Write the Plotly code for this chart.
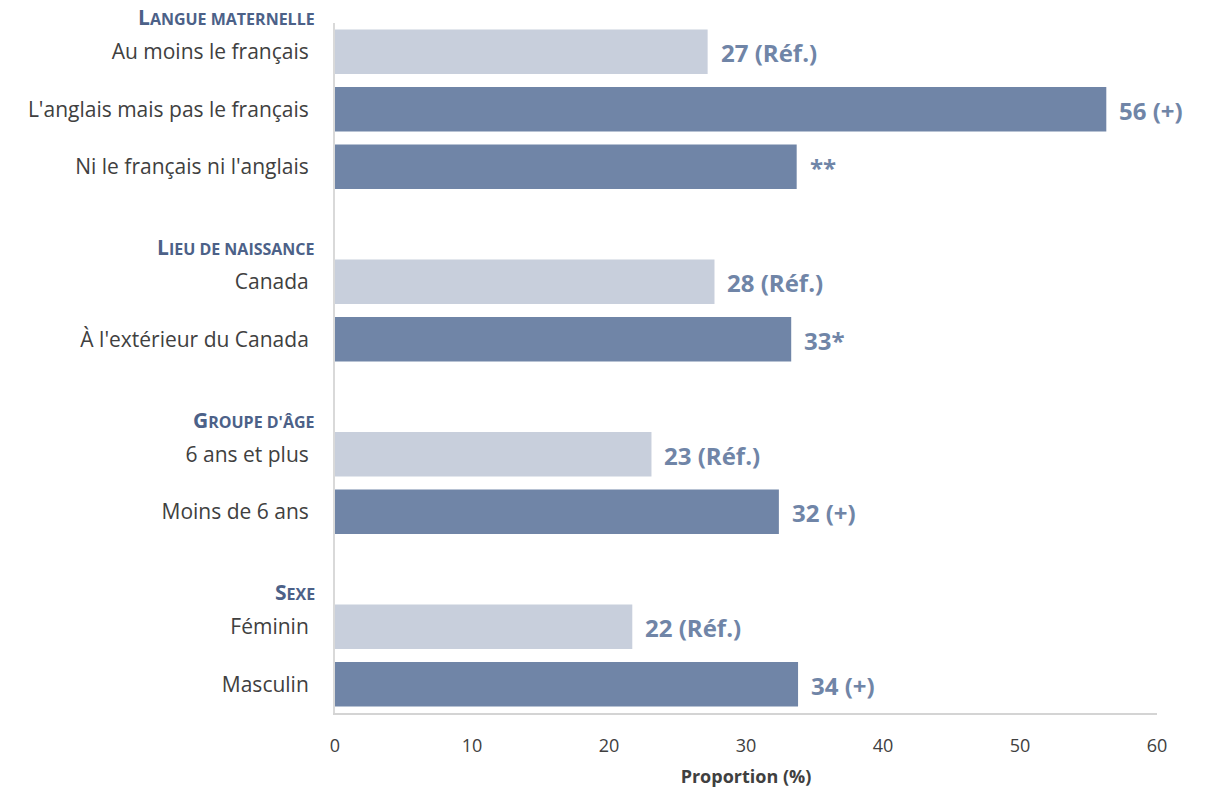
import plotly.graph_objects as go

# Data
categories = ["Au moins le français", "L'anglais mais pas le français", "Ni le français ni l'anglais",
              "Canada", "À l'extérieur du Canada",
              "6 ans et plus", "Moins de 6 ans",
              "Féminin", "Masculin"]
values = [27.2, 56.3, 33.7, 27.7, 33.3, 23.1, 32.4, 21.7, 33.8]
labels = ["27 (Réf.)", "56 (+)", "**", "28 (Réf.)", "33*", "23 (Réf.)", "32 (+)", "22 (Réf.)", "34 (+)"]
is_ref = [True, False, False, True, False, True, False, True, False]
row_pos = [0, 1, 2, 4, 5, 7, 8, 10, 11]
group_titles = [("L", "ANGUE MATERNELLE"), ("L", "IEU DE NAISSANCE"), ("G", "ROUPE D'ÂGE"), ("S", "EXE")]
group_first_row = [0, 4, 7, 10]
x_ticks = [0, 10, 20, 30, 40, 50, 60]

LIGHT = "#C8CFDC"
DARK = "#7085A7"
HEAD = "#4C6188"
FONT = "Open Sans"

colors = [LIGHT if r else DARK for r in is_ref]
Y_TOP, Y_BOT = -0.5, 11.5

fig = go.Figure()
fig.add_trace(go.Bar(
    x=values, y=row_pos, orientation="h",
    marker=dict(color=colors, line=dict(width=0)),
    width=0.77, hoverinfo="skip", showlegend=False,
))

for v, p, t in zip(values, row_pos, labels):
    fig.add_annotation(x=v, y=p, xref="x", yref="y", text=f"<b>{t}</b>",
                       showarrow=False, xanchor="left", yanchor="middle", xshift=11, yshift=-1,
                       font=dict(family=FONT, size=24, color=DARK))

for (first, rest), r in zip(group_titles, group_first_row):
    ypaper = (Y_BOT - (r - 0.6)) / (Y_BOT - Y_TOP)
    fig.add_annotation(x=0, y=ypaper, xref="paper", yref="paper",
                       text=f"<b>{first}<span style='font-size:16px'>{rest}</span></b>",
                       showarrow=False, xanchor="right", yanchor="middle", xshift=-18,
                       font=dict(family=FONT, size=21, color=HEAD))

fig.update_layout(
    width=1207, height=789,
    margin=dict(l=327, r=58, t=15, b=84),
    plot_bgcolor="white", paper_bgcolor="white",
    xaxis=dict(range=[0, 60], tickvals=x_ticks, ticktext=[str(t) for t in x_ticks],
               showgrid=False, zeroline=False, showline=True, linecolor="#D4D4D4", linewidth=2,
               ticks="", ticklabelstandoff=15,
               tickfont=dict(family=FONT, size=18, color="#404040"),
               title=dict(text="<b>Proportion (%)</b>", font=dict(family=FONT, size=18, color="#404040"),
                          standoff=15)),
    yaxis=dict(range=[Y_BOT, Y_TOP], tickvals=row_pos, ticktext=categories,
               showgrid=False, zeroline=False, showline=True, linecolor="#D9D9D9", linewidth=2,
               ticks="", ticklabelstandoff=20,
               tickfont=dict(family=FONT, size=21, color="#404040")),
)

fig.write_html("out.html")
